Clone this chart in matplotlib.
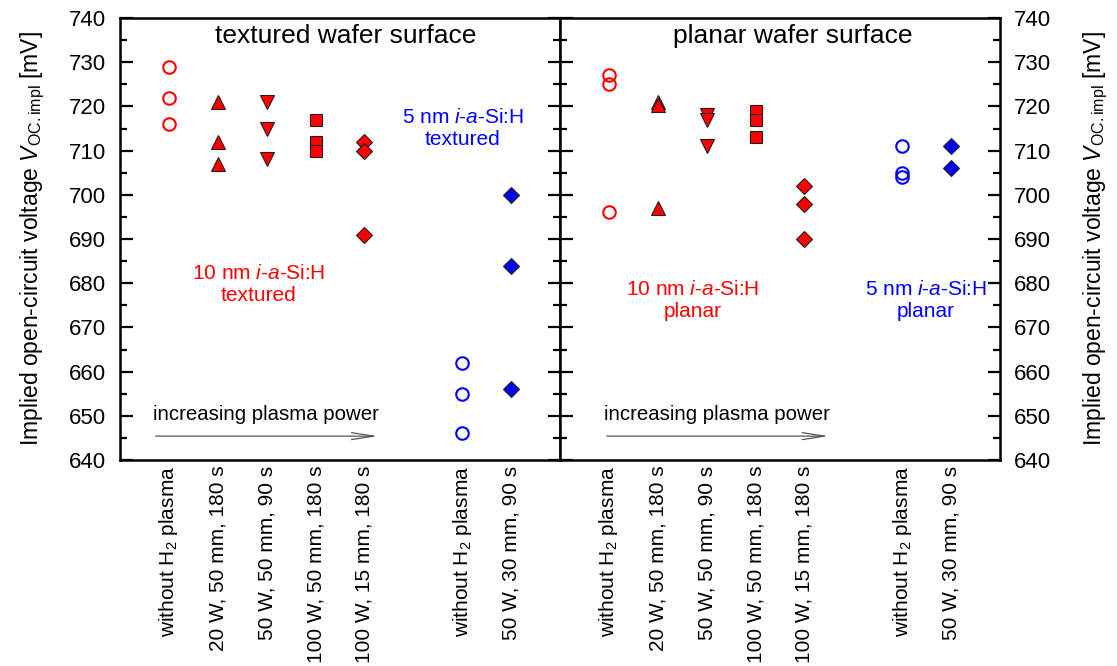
import matplotlib
matplotlib.use("Agg")
import matplotlib.pyplot as plt
from matplotlib.ticker import MultipleLocator

plt.rcParams['font.family'] = ['Liberation Sans', 'DejaVu Sans']
plt.rcParams['mathtext.fontset'] = 'custom'
plt.rcParams['mathtext.rm'] = 'Liberation Sans'
plt.rcParams['mathtext.it'] = 'Liberation Sans:italic'

# ---------------- data ----------------
tick_labels = ["without H$_2$ plasma", "20 W, 50 mm, 180 s", "50 W, 50 mm, 90 s",
               "100 W, 50 mm, 180 s", "100 W, 15 mm, 180 s",
               "without H$_2$ plasma", "50 W, 30 mm, 90 s"]
tick_pos = [1, 2, 3, 4, 5, 7, 8]

# textured wafer surface
tex_10nm_ref = [729, 722, 716]
tex_10nm_20W = [721, 712, 707]
tex_10nm_50W = [721, 715, 708]
tex_10nm_100W50 = [717, 712, 710]
tex_10nm_100W15 = [712, 710, 691]
tex_5nm_ref = [662, 655, 646]
tex_5nm_50W = [700, 684, 656]

# planar wafer surface
pla_10nm_ref = [727, 725, 696]
pla_10nm_20W = [721, 720.3, 697]
pla_10nm_50W = [718, 717, 711]
pla_10nm_100W50 = [719, 717, 713]
pla_10nm_100W15 = [702, 698, 690]
pla_5nm_ref = [711, 705, 704]
pla_5nm_50W = [711, 706]

RED = '#ff0000'
BLUE = '#0000ff'

fig = plt.figure(figsize=(11.17, 6.66), dpi=100)
axL = fig.add_axes([120/1117, 206/666, 440/1117, 442/666])
axR = fig.add_axes([560/1117, 206/666, 440/1117, 442/666])


def draw(ax, ref10, w20, w50, w100a, w100b, ref5, w50_5):
    ax.plot([1]*len(ref10), ref10, 'o', ms=9, mfc='none', mec=RED, mew=1.5, ls='none')
    ax.plot([2]*len(w20), w20, '^', ms=9.5, mfc=RED, mec='#202020', mew=0.8, ls='none')
    ax.plot([3]*len(w50), w50, 'v', ms=9.5, mfc=RED, mec='#202020', mew=0.8, ls='none')
    ax.plot([4]*len(w100a), w100a, 's', ms=8, mfc=RED, mec='#202020', mew=0.8, ls='none')
    ax.plot([5]*len(w100b), w100b, 'D', ms=8, mfc=RED, mec='#202020', mew=0.8, ls='none')
    ax.plot([7]*len(ref5), ref5, 'o', ms=9, mfc='none', mec=BLUE, mew=1.5, ls='none')
    ax.plot([8]*len(w50_5), w50_5, 'D', ms=8.5, mfc=BLUE, mec='#202020', mew=0.8, ls='none')
    ax.set_xlim(0, 9)
    ax.set_ylim(640, 740)
    ax.set_xticks(tick_pos)
    ax.set_xticklabels(tick_labels, rotation=90, fontsize=15)
    ax.yaxis.set_major_locator(MultipleLocator(10))
    ax.yaxis.set_minor_locator(MultipleLocator(5))
    ax.tick_params(axis='x', length=0, pad=4)
    ax.tick_params(axis='y', which='both', direction='in', left=True, right=True, width=1.6)
    ax.tick_params(axis='y', which='major', length=9)
    ax.tick_params(axis='y', which='minor', length=5)
    for sp in ax.spines.values():
        sp.set_linewidth(1.8)


draw(axL, tex_10nm_ref, tex_10nm_20W, tex_10nm_50W, tex_10nm_100W50, tex_10nm_100W15,
     tex_5nm_ref, tex_5nm_50W)
draw(axR, pla_10nm_ref, pla_10nm_20W, pla_10nm_50W, pla_10nm_100W50, pla_10nm_100W15,
     pla_5nm_ref, pla_5nm_50W)

ylabel = "Implied open-circuit voltage $V_{\\mathrm{OC.impl}}$ [mV]"
axL.tick_params(axis='y', labelleft=True, labelright=False, labelsize=16, pad=10)
axL.set_ylabel(ylabel, fontsize=16.5, labelpad=16)
axR.tick_params(axis='y', labelleft=False, labelright=True, labelsize=16, pad=10)
axR.yaxis.set_label_position('right')
axR.set_ylabel(ylabel, fontsize=16.5, labelpad=22)

# panel titles
axL.text(4.62, 736, "textured wafer surface", ha='center', va='center', fontsize=19)
axR.text(4.76, 736, "planar wafer surface", ha='center', va='center', fontsize=19)

# group annotations
axL.text(2.83, 679.7, "10 nm $\\mathit{i}$-$\\mathit{a}$-Si:H\ntextured", ha='center', va='center',
         fontsize=15, color=RED, linespacing=1.2)
axL.text(7.01, 715, "5 nm $\\mathit{i}$-$\\mathit{a}$-Si:H\ntextured", ha='center', va='center',
         fontsize=15, color=BLUE, linespacing=1.2)
axR.text(2.72, 676, "10 nm $\\mathit{i}$-$\\mathit{a}$-Si:H\nplanar", ha='center', va='center',
         fontsize=15, color=RED, linespacing=1.2)
axR.text(7.48, 676, "5 nm $\\mathit{i}$-$\\mathit{a}$-Si:H\nplanar", ha='center', va='center',
         fontsize=15, color=BLUE, linespacing=1.2)

# increasing plasma power arrows
for ax, x0, x1 in [(axL, 0.67, 5.33), (axR, 0.9, 5.55)]:
    ax.text(x0, 650.3, "increasing plasma power", ha='left', va='center', fontsize=14.7)
    ax.annotate("", xy=(x1, 645.4), xytext=(x0, 645.4),
                arrowprops=dict(arrowstyle='->,head_length=1.6,head_width=0.25',
                                color='#555555', lw=0.9))

fig.savefig("out.png", dpi=100)
